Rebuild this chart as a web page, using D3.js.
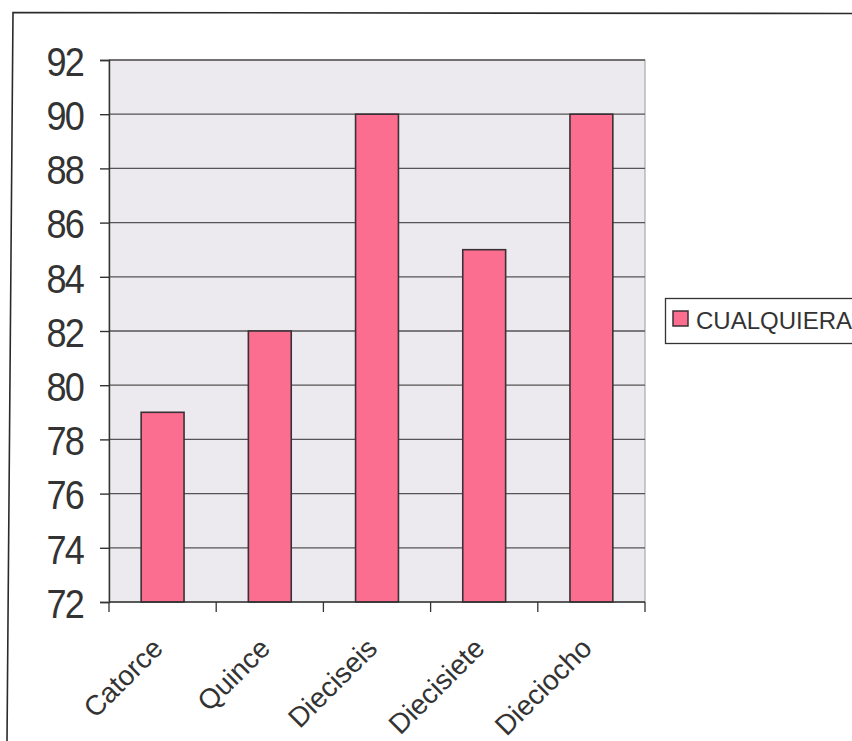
<!DOCTYPE html>
<html>
<head>
<meta charset="utf-8">
<script src="https://cdn.jsdelivr.net/npm/d3@7"></script>
<style>
  html, body { margin: 0; padding: 0; background: #fff; }
  svg { display: block; }
</style>
</head>
<body>
<script>
// Chart data
const categories = ["Catorce", "Quince", "Dieciseis", "Diecisiete", "Dieciocho"];
const seriesName = "CUALQUIERA";
const values = [79, 82, 90, 85, 90];
const yTicks = [72, 74, 76, 78, 80, 82, 84, 86, 88, 90, 92];

const W = 852, H = 741;
const plot = { left: 109, right: 645, top: 60, bottom: 602 };

const svg = d3.select("body").append("svg")
  .attr("width", W).attr("height", H);

// outer chart frame (slightly skewed, as on the scanned sheet)
svg.append("path")
  .attr("d", `M7,${H} L13,12.5 L${W},13.5`)
  .attr("fill", "none").attr("stroke", "#2a2a2a").attr("stroke-width", 1.6);

const x = d3.scaleBand().domain(categories)
  .range([plot.left, plot.right]).paddingInner(0.6).paddingOuter(0.3);
const xOuter = d3.scaleBand().domain(categories)
  .range([plot.left, plot.right]);
const y = d3.scaleLinear().domain([72, 92]).range([plot.bottom, plot.top]);

// plot background
svg.append("rect")
  .attr("x", plot.left).attr("y", plot.top)
  .attr("width", plot.right - plot.left).attr("height", plot.bottom - plot.top)
  .attr("fill", "#ece9ef").attr("stroke", "#9a9a9a").attr("stroke-width", 1);

// horizontal gridlines
svg.append("g").selectAll("line").data(yTicks.slice(1)).join("line")
  .attr("x1", plot.left).attr("x2", plot.right)
  .attr("y1", d => y(d)).attr("y2", d => y(d))
  .attr("stroke", "#555").attr("stroke-width", 1.3);

// bars
svg.append("g").selectAll("rect").data(values).join("rect")
  .attr("x", (d, i) => x(categories[i]))
  .attr("width", x.bandwidth())
  .attr("y", d => y(d))
  .attr("height", d => y(72) - y(d))
  .attr("fill", "#fb6e8f")
  .attr("stroke", "#3a3136").attr("stroke-width", 1.6);

// y axis
const yAxis = svg.append("g").attr("transform", `translate(${plot.left},0)`)
  .call(d3.axisLeft(y).tickValues(yTicks).tickSize(9).tickPadding(0).tickFormat(d3.format("d")));
yAxis.select(".domain").attr("stroke", "#333").attr("stroke-width", 1.4);
yAxis.selectAll(".tick line").attr("stroke", "#333").attr("stroke-width", 1.4);
yAxis.selectAll(".tick text")
  .attr("x", 0).attr("dy", null)
  .attr("font-family", "Liberation Sans, Arial, sans-serif")
  .attr("font-size", 41).attr("fill", "#333").attr("letter-spacing", -2)
  .attr("text-anchor", "end").attr("dominant-baseline", "central")
  .attr("transform", "translate(-26,1) scale(0.88,1)");

// x axis
const xAxis = svg.append("g").attr("transform", `translate(0,${plot.bottom})`);
xAxis.append("line")
  .attr("x1", plot.left).attr("x2", plot.right)
  .attr("stroke", "#333").attr("stroke-width", 1.4);
const tickXs = categories.map(c => xOuter(c)).concat([plot.right]);
xAxis.selectAll("line.tk").data(tickXs).join("line").attr("class", "tk")
  .attr("x1", d => d).attr("x2", d => d).attr("y1", 0).attr("y2", 10)
  .attr("stroke", "#333").attr("stroke-width", 1.3);

// category labels, rotated, clipped where they run into the axis area
svg.append("clipPath").attr("id", "labclip")
  .append("rect").attr("x", 0).attr("y", 638).attr("width", W).attr("height", H - 638);
svg.append("g").attr("clip-path", "url(#labclip)")
  .selectAll("text").data(categories).join("text")
  .attr("transform", c => `translate(${xOuter(c) + xOuter.bandwidth() / 2 + 2},${650}) rotate(-45)`)
  .attr("text-anchor", "end")
  .attr("font-family", "Liberation Sans, Arial, sans-serif")
  .attr("font-size", 28).attr("fill", "#333")
  .text(c => c);

// legend
const lg = svg.append("g");
lg.append("rect").attr("x", 665.5).attr("y", 298.5).attr("width", 200).attr("height", 45)
  .attr("fill", "#fff").attr("stroke", "#333").attr("stroke-width", 1.3);
lg.append("rect").attr("x", 673).attr("y", 311).attr("width", 15).attr("height", 15)
  .attr("fill", "#fb6e8f").attr("stroke", "#3a3136").attr("stroke-width", 1.5);
lg.append("text").attr("x", 696).attr("y", 329)
  .attr("font-family", "Liberation Sans, Arial, sans-serif")
  .attr("font-size", 24).attr("fill", "#333")
  .text(seriesName);
</script>
</body>
</html>
